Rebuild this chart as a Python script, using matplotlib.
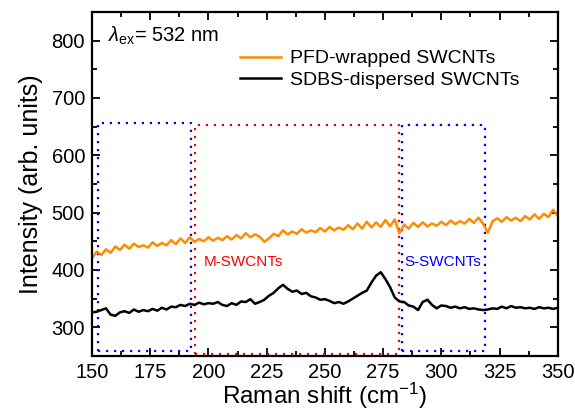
import matplotlib
matplotlib.use('Agg')
import matplotlib.pyplot as plt

plt.rcParams['font.family'] = ['Liberation Sans', 'DejaVu Sans']
plt.rcParams['mathtext.fontset'] = 'custom'
plt.rcParams['mathtext.rm'] = 'Liberation Sans'
plt.rcParams['mathtext.it'] = 'Liberation Sans:italic'

# Raman shift grid (cm^-1)
shift = [150, 152, 154, 156, 158, 160, 162, 164, 166, 168,
         170, 172, 174, 176, 178, 180, 182, 184, 186, 188,
         190, 192, 194, 196, 198, 200, 202, 204, 206, 208,
         210, 212, 214, 216, 218, 220, 222, 224, 226, 228,
         230, 232, 234, 236, 238, 240, 242, 244, 246, 248,
         250, 252, 254, 256, 258, 260, 262, 264, 266, 268,
         270, 272, 274, 276, 278, 280, 282, 284, 286, 288,
         290, 292, 294, 296, 298, 300, 302, 304, 306, 308,
         310, 312, 314, 316, 318, 320, 322, 324, 326, 328,
         330, 332, 334, 336, 338, 340, 342, 344, 346, 348,
         350]

pfd = [420, 432, 426, 436, 430, 441, 435, 444, 437, 446,
       440, 443, 439, 448, 442, 447, 443, 452, 445, 455,
       447, 457, 449, 454, 450, 457, 451, 456, 452, 459,
       453, 461, 455, 464, 457, 462, 458, 449, 455, 463,
       459, 469, 462, 467, 463, 471, 465, 469, 466, 473,
       467, 475, 469, 474, 470, 478, 471, 481, 472, 484,
       474, 483, 475, 487, 476, 488, 464, 479, 472, 482,
       475, 483, 476, 481, 477, 484, 478, 486, 480, 485,
       481, 489, 482, 491, 480, 465, 485, 490, 484, 492,
       486, 491, 485, 494, 488, 497, 489, 498, 492, 505,
       494]

sdbs = [326, 327, 330, 333, 322, 320, 326, 328, 325, 331,
        327, 330, 328, 332, 329, 334, 331, 336, 335, 339,
        337, 341, 339, 343, 340, 342, 341, 344, 339, 337,
        342, 339, 345, 344, 349, 341, 344, 348, 355, 360,
        368, 374, 367, 362, 364, 358, 360, 354, 352, 348,
        349, 346, 342, 344, 341, 345, 350, 355, 360, 364,
        378, 390, 396, 384, 370, 352, 345, 344, 338, 336,
        330, 344, 348, 339, 333, 338, 337, 334, 336, 333,
        335, 332, 333, 331, 330, 331, 333, 332, 336, 333,
        337, 334, 335, 333, 334, 332, 335, 333, 334, 332,
        334]

# region boxes: (x0, x1, y0, y1, colour)
boxes = [(152.5, 192.5, 259, 656, '#0000ff'),
         (194.2, 281.8, 254, 653, '#ff0000'),
         (283.2, 318.7, 259, 652, '#0000ff')]

fig = plt.figure(figsize=(5.75, 4.11), dpi=100)
ax = fig.add_axes([0.16, 0.134, 0.81, 0.837])

for x0, x1, y0, y1, c in boxes:
    ax.plot([x0, x1, x1, x0, x0], [y0, y0, y1, y1, y0], color=c,
            linestyle=(0, (1, 2.6)), linewidth=1.6)

ax.plot(shift, pfd, color='#ff8c00', linewidth=1.8, label='PFD-wrapped SWCNTs')
ax.plot(shift, sdbs, color='black', linewidth=1.8, label='SDBS-dispersed SWCNTs')

ax.text(215, 414, 'M-SWCNTs', color='#ff0000', fontsize=11, ha='center', va='center')
ax.text(300.8, 414, 'S-SWCNTs', color='#0000ff', fontsize=11, ha='center', va='center')
ax.text(157, 808, r'$\lambda_{\mathrm{ex}}$= 532 nm', fontsize=14.5, ha='left', va='center')

ax.set_xlim(150, 350)
ax.set_ylim(250, 850)
ax.set_xticks([150, 175, 200, 225, 250, 275, 300, 325, 350])
ax.set_xticks([162.5, 187.5, 212.5, 237.5, 262.5, 287.5, 312.5, 337.5], minor=True)
ax.set_yticks([300, 400, 500, 600, 700, 800])
ax.set_yticks([250, 350, 450, 550, 650, 750, 850], minor=True)
ax.tick_params(which='both', direction='in', top=True, right=True, width=1.3,
               labelsize=14.5)
ax.tick_params(which='major', length=6, pad=5)
ax.tick_params(which='minor', length=3.5)
for s in ax.spines.values():
    s.set_linewidth(1.6)

ax.set_xlabel(r'Raman shift (cm$^{\mathrm{-1}}$)', fontsize=17.5, labelpad=-1)
ax.set_ylabel('Intensity (arb. units)', fontsize=18, labelpad=6)

ax.legend(loc='upper left', bbox_to_anchor=(0.318, 0.89), frameon=False,
          fontsize=14, handlelength=2.1, handletextpad=0.45, labelspacing=0.2,
          borderpad=0, borderaxespad=0)

fig.savefig('out.png', dpi=100)
